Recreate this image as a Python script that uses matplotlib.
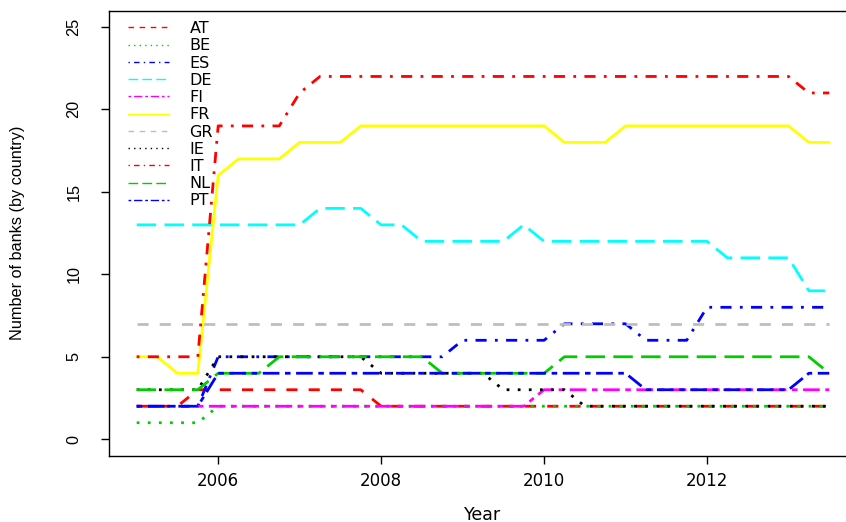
import numpy as np
import matplotlib
matplotlib.use("Agg")
import matplotlib.pyplot as plt
from matplotlib.lines import Line2D

# quarterly observations, 2005Q1 .. 2013Q3
quarters = np.arange(2005.0, 2013.51, 0.25)

nan = np.nan
AT = [2, 2, 2, 3, 3, 3, 3, 3, 3, 3, 3, 3, 2, 2, 2, 2, 2, 2, 2, 2, 2, 2, 2, 2, 2, 2, 2, 2, 2, 2, 2, 2, 2, 2, 2]
BE = [1, 1, 1, 1, 2, 2, 2, 2, 2, 2, 2, 2, 2, 2, 2, 2, 2, 2, 2, 2, 2, 2, 2, 2, 2, 2, 2, 2, 2, 2, 2, 2, 2, 2, 2]
ES = [2, 2, 2, 2, 5, 5, 5, 5, 5, 5, 5, 5, 5, 5, 5, 5, 6, 6, 6, 6, 6, 7, 7, 7, 7, 6, 6, 6, 8, 8, 8, 8, 8, 8, 8]
DE = [13, 13, 13, 13, 13, 13, 13, 13, 13, 14, 14, 14, 13, 13, 12, 12, 12, 12, 12, 13, 12, 12, 12, 12, 12, 12, 12, 12, 12, 11, 11, 11, 11, 9, 9]
FI = [nan, nan, nan, 2, 2, 2, 2, 2, 2, 2, 2, 2, 2, 2, 2, 2, 2, 2, 2, 2, 3, 3, 3, 3, 3, 3, 3, 3, 3, 3, 3, 3, 3, 3, 3]
FR = [5, 5, 4, 4, 16, 17, 17, 17, 18, 18, 18, 19, 19, 19, 19, 19, 19, 19, 19, 19, 19, 18, 18, 18, 19, 19, 19, 19, 19, 19, 19, 19, 19, 18, 18]
GR = [7, 7, 7, 7, 7, 7, 7, 7, 7, 7, 7, 7, 7, 7, 7, 7, 7, 7, 7, 7, 7, 7, 7, 7, 7, 7, 7, 7, 7, 7, 7, 7, 7, 7, 7]
IE = [3, 3, 3, 3, 5, 5, 5, 5, 5, 5, 5, 5, 4, 4, 4, 4, 4, 4, 3, 3, 3, 3, 2, 2, 2, 2, 2, 2, 2, 2, 2, 2, 2, 2, 2]
IT = [5, 5, 5, 5, 19, 19, 19, 19, 21, 22, 22, 22, 22, 22, 22, 22, 22, 22, 22, 22, 22, 22, 22, 22, 22, 22, 22, 22, 22, 22, 22, 22, 22, 21, 21]
NL = [3, 3, 3, 3, 4, 4, 4, 5, 5, 5, 5, 5, 5, 5, 5, 4, 4, 4, 4, 4, 4, 5, 5, 5, 5, 5, 5, 5, 5, 5, 5, 5, 5, 5, 4]
PT = [2, 2, 2, 2, 4, 4, 4, 4, 4, 4, 4, 4, 4, 4, 4, 4, 4, 4, 4, 4, 4, 4, 4, 4, 4, 3, 3, 3, 3, 3, 3, 3, 3, 4, 4]

countries = ["AT", "BE", "ES", "DE", "FI", "FR", "GR", "IE", "IT", "NL", "PT"]
series = [AT, BE, ES, DE, FI, FR, GR, IE, IT, NL, PT]

# R palette colours and lty patterns (dashed, dotted, dotdash, longdash, twodash, solid)
colors = ["#FF0000", "#00CD00", "#0000FF", "#00FFFF", "#FF00FF", "#FFFF00",
          "#BEBEBE", "#000000", "#FF0000", "#00CD00", "#0000FF"]
dashes = [(4, 4), (1, 3), (1, 3, 4, 3), (7, 3), (2, 2, 6, 2), None,
          (4, 4), (1, 3), (1, 3, 4, 3), (7, 3), (2, 2, 6, 2)]

fig = plt.figure(figsize=(8.46, 5.22), dpi=100)
# the original is cropped on the right, so the plot box stops at the edge
ax = fig.add_axes([0.12884, 0.12701, 0.87116, 0.85287])


def style(d):
    return "-" if d is None else (0, d)


handles = []
for name, vals, c, d in zip(countries, series, colors, dashes):
    ax.plot(quarters, vals, color=c, lw=2, linestyle=style(d),
            dash_capstyle="butt", solid_capstyle="round",
            solid_joinstyle="round", dash_joinstyle="round")
    handles.append(Line2D([], [], color=c, lw=1, linestyle=style(d)))

ax.set_xlim(2004.66, 2013.7055)
ax.set_ylim(-1, 26)
ax.set_xticks([2006, 2008, 2010, 2012])
ax.set_yticks([0, 5, 10, 15, 20, 25])

for sp in ax.spines.values():
    sp.set_linewidth(1.0)
ax.spines["right"].set_visible(False)

ax.tick_params(axis="x", length=5.8, width=1, pad=5.8, labelsize=12)
ax.tick_params(axis="y", length=5.8, width=1, pad=14, labelsize=11.7,
               labelrotation=90)
for lab in ax.get_xticklabels():
    lab.set_fontfamily("DejaVu Sans")
for lab in ax.get_yticklabels():
    lab.set_fontfamily("Liberation Sans")
    lab.set_verticalalignment("center")

ax.set_xlabel("Year", fontsize=12.5, family="DejaVu Sans")
ax.xaxis.set_label_coords(0.5 * (857 - 109) / 737, -0.112)
ax.set_ylabel("Number of banks (by country)", fontsize=11.7,
              family="Liberation Sans", va="center")
ax.yaxis.set_label_coords(-91 / 737, 0.5)

ax.legend(handles, countries, loc="upper left",
          bbox_to_anchor=(128 / 846, 0.9596), bbox_transform=fig.transFigure,
          frameon=False, borderpad=0, borderaxespad=0,
          handlelength=2.55, handletextpad=1.3, labelspacing=0.14,
          prop={"family": "DejaVu Sans", "size": 11.5})

fig.savefig("out.png", dpi=100)
